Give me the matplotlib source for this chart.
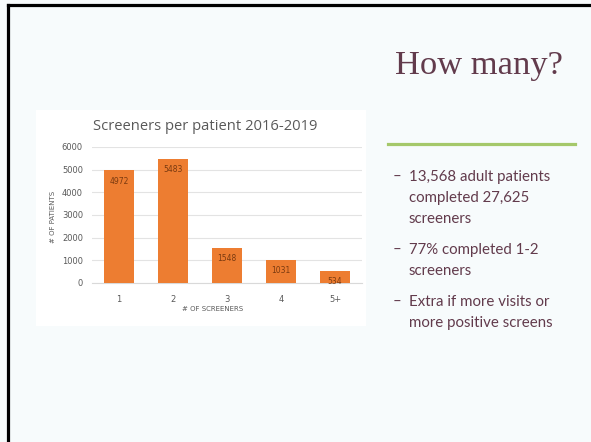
import matplotlib
matplotlib.use("Agg")
import matplotlib.pyplot as plt
from matplotlib.patches import Rectangle
from matplotlib.lines import Line2D

# chart data
categories = ["1", "2", "3", "4", "5+"]
patients = [4972, 5483, 1548, 1031, 534]
y_ticks = [0, 1000, 2000, 3000, 4000, 5000, 6000]

# slide text
slide_title = "How many?"
bullets = [
    ["13,568 adult patients", "completed 27,625", "screeners"],
    ["77% completed 1-2", "screeners"],
    ["Extra if more visits or", "more positive screens"],
]

W, H = 591, 442
BG = "#F7FBFC"
PLUM = "#623B4C"
ORANGE = "#ED7D31"
GRAY = "#595959"


def fx(px):
    return px / W


def fy(py):
    return 1 - py / H


fig = plt.figure(figsize=(W / 100, H / 100), dpi=100, facecolor=BG)

# slide frame (left + top only)
fig.add_artist(Line2D([fx(8), fx(8)], [0, fy(5)], color="black", lw=2.3))
fig.add_artist(Line2D([fx(8), 1], [fy(5), fy(5)], color="black", lw=2.3))

# white panel behind the chart picture
fig.add_artist(Rectangle((fx(36), fy(326)), fx(366) - fx(36), fy(110) - fy(326),
                         transform=fig.transFigure, facecolor="white",
                         edgecolor="none", zorder=0))

ax = fig.add_axes([fx(92), fy(283), fx(362) - fx(92), fy(147) - fy(283)])
ax.set_facecolor("white")
x = range(len(categories))
bars = ax.bar(x, patients, width=0.57, color=ORANGE, zorder=3)
for b, v in zip(bars, patients):
    ax.text(b.get_x() + b.get_width() / 2, v - 480, str(v), ha="center",
            va="center", fontsize=5.5, color="#7A3A10", zorder=4)

ax.set_xlim(-0.5, len(categories) - 0.5)
ax.set_ylim(0, 6000)
ax.set_yticks(y_ticks)
ax.set_yticklabels([str(t) for t in y_ticks])
ax.set_xticks(list(x))
ax.set_xticklabels(categories)
ax.tick_params(axis="both", length=0, labelsize=6, labelcolor=GRAY)
ax.tick_params(axis="x", pad=9)
ax.tick_params(axis="y", pad=6.5)
ax.grid(axis="y", color="#E3E3E3", lw=0.8, zorder=0)
for s in ["top", "right", "left"]:
    ax.spines[s].set_visible(False)
ax.spines["bottom"].set_color("#D9D9D9")

fig.text(fx(205), fy(126), "Screeners per patient 2016-2019", ha="center",
         va="center", fontsize=10.6, color=GRAY, family="Open Sans")
fig.text(fx(53), fy(217), "# OF PATIENTS", ha="center", va="center",
         rotation=90, fontsize=5, color=GRAY)
fig.text(fx(213), fy(309), "# OF SCREENERS", ha="center", va="center",
         fontsize=5, color=GRAY)

# right side of the slide
fig.text(fx(395), fy(66), slide_title, ha="left", va="center", fontsize=24.8,
         color=PLUM, family="Liberation Serif")
fig.add_artist(Line2D([fx(388), fx(575)], [fy(144), fy(144)],
                      color="#A5C86A", lw=2.3))

y = 177
for group in bullets:
    fig.text(fx(393), fy(y), "\u2013", ha="left", va="center", fontsize=10.8,
             color=PLUM, family="Lato")
    for line in group:
        fig.text(fx(409), fy(y), line, ha="left", va="center", fontsize=10.8,
                 color=PLUM, family="Lato")
        y += 21
    y += 10

fig.savefig("out.png", dpi=100, facecolor=BG)
